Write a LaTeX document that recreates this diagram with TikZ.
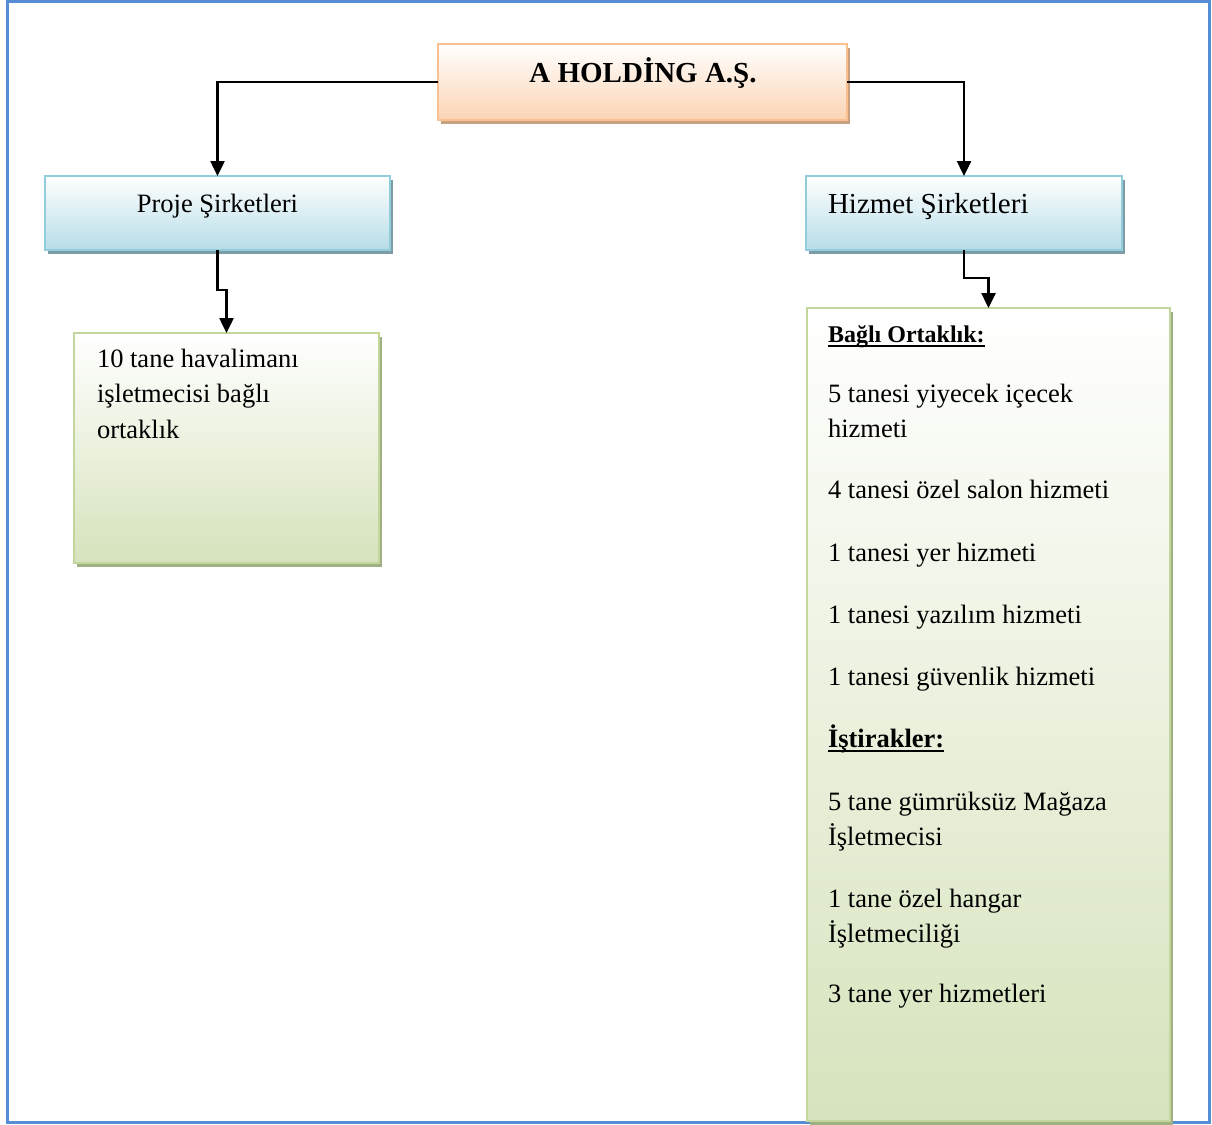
\documentclass[tikz,border=0pt]{standalone}
\usepackage{fontspec}
\setmainfont{Liberation Serif}
\usetikzlibrary{arrows.meta,shadows}

\definecolor{frameblue}{RGB}{85,142,213}
\definecolor{peachline}{RGB}{250,192,143}
\definecolor{peachfill}{RGB}{251,212,180}
\definecolor{peachshadow}{RGB}{200,162,128}
\definecolor{blueline}{RGB}{146,205,220}
\definecolor{bluefill}{RGB}{183,221,232}
\definecolor{blueshadow}{RGB}{125,156,166}
\definecolor{greenline}{RGB}{195,214,155}
\definecolor{greenfill}{RGB}{214,227,188}
\definecolor{greenshadow}{RGB}{160,176,130}

% bold heading with a heavy underline
\newcommand\thickul[1]{\setbox0=\hbox{#1}\rlap{\rule[-5pt]{\wd0}{2pt}}\box0}

\begin{document}
\begin{tikzpicture}[x=1pt,y=-1pt,
  box/.style={rectangle, inner sep=0pt, outer sep=0pt, line width=2.5pt},
  headbox/.style={box, draw=peachline, top color=white, bottom color=peachfill,
    drop shadow={fill=peachshadow, opacity=1, shadow xshift=3pt, shadow yshift=-4pt}},
  unitbox/.style={box, draw=blueline, top color=white, bottom color=bluefill,
    drop shadow={fill=blueshadow, opacity=1, shadow xshift=3pt, shadow yshift=-4pt}},
  listbox/.style={box, draw=greenline, top color=white, bottom color=greenfill,
    drop shadow={fill=greenshadow, opacity=1, shadow xshift=3pt, shadow yshift=-4pt}},
  txt/.style={inner sep=0pt, outer sep=0pt, font=\fontsize{26.5}{35}\selectfont},
  conn/.style={line width=2.5pt, line join=miter, -{Triangle[length=15pt,width=14pt]}}
]
\useasboundingbox (0,0) rectangle (1212,1124);

% page frame
\draw[frameblue, line width=3pt] (7,1.5) rectangle (1209,1122);

% boxes
\node[headbox, minimum width=409pt, minimum height=76pt] (top) at (642.5,82) {};
\node[unitbox, minimum width=345pt, minimum height=74pt] (proje) at (217.5,213) {};
\node[unitbox, minimum width=316pt, minimum height=74pt] (hizmet) at (964,213) {};
\node[listbox, minimum width=305pt, minimum height=230pt] (gleft) at (226.5,448) {};
\node[listbox, minimum width=363pt, minimum height=813pt] (gright) at (988.5,714.5) {};

% box titles
\node[txt, anchor=base, font=\fontsize{29}{35}\selectfont\bfseries] (topT) at (643,82) {A HOLDİNG A.Ş.};
\node[txt, anchor=base] (projeT) at (217.5,212) {Proje Şirketleri};
\node[txt, anchor=base west, font=\fontsize{29}{35}\selectfont] (hizmetT) at (828,213) {Hizmet Şirketleri};

% left list
\node[txt, anchor=base west] (l1) at (97,367) {10 tane havalimanı};
\node[txt, anchor=base west] (l2) at (97,402) {işletmecisi bağlı};
\node[txt, anchor=base west] (l3) at (97,438) {ortaklık};

% right list
\node[txt, anchor=base west, font=\fontsize{24}{30}\selectfont\bfseries] (r0) at (828,342) {\thickul{Bağlı Ortaklık:}};
\node[txt, anchor=base west] (r1) at (828,402) {5 tanesi yiyecek içecek};
\node[txt, anchor=base west] (r2) at (828,437) {hizmeti};
\node[txt, anchor=base west] (r3) at (828,498) {4 tanesi özel salon hizmeti};
\node[txt, anchor=base west] (r4) at (828,561) {1 tanesi yer hizmeti};
\node[txt, anchor=base west] (r5) at (828,623) {1 tanesi yazılım hizmeti};
\node[txt, anchor=base west] (r6) at (828,685) {1 tanesi güvenlik hizmeti};
\node[txt, anchor=base west, font=\fontsize{26.5}{35}\selectfont\bfseries] (r7) at (828,747) {\thickul{İştirakler:}};
\node[txt, anchor=base west] (r8) at (828,810) {5 tane gümrüksüz Mağaza};
\node[txt, anchor=base west] (r9) at (828,845) {İşletmecisi};
\node[txt, anchor=base west] (r10) at (828,907) {1 tane özel hangar};
\node[txt, anchor=base west] (r11) at (828,942) {İşletmeciliği};
\node[txt, anchor=base west] (r12) at (828,1002) {3 tane yer hizmetleri};

% connectors
\draw[conn] (top.west) -| (proje.north);
\draw[conn] (top.east) -| (hizmet.north);
\draw[conn] (proje.south) -- ++(0,40) -| (gleft.north);
\draw[conn] (hizmet.south) -- ++(0,28) -| (gright.north);
\end{tikzpicture}
\end{document}
